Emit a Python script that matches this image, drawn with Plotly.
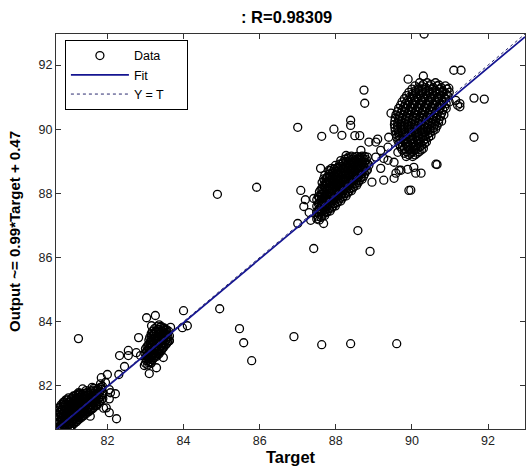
import plotly.graph_objects as go

# ---------------- data (target, output) ----------------
cluster_81 = [
    (80.70,80.66),(80.69,80.79),(80.71,80.94),(80.70,81.09),(80.72,81.24),
    (80.76,80.64),(80.77,80.75),(80.75,80.89),(80.78,81.03),(80.76,81.17),(80.77,81.34),
    (80.82,80.70),(80.83,80.84),(80.81,80.99),(80.84,81.12),(80.82,81.27),(80.83,81.43),
    (80.88,80.66),(80.89,80.78),(80.87,80.92),(80.90,81.05),(80.88,81.21),(80.89,81.33),(80.87,81.50),
    (80.95,80.72),(80.94,80.86),(80.96,81.00),(80.95,81.14),(80.93,81.27),(80.96,81.41),(80.95,81.56),
    (81.01,80.68),(81.02,80.81),(81.00,80.94),(81.03,81.08),(81.01,81.22),(81.02,81.36),(81.00,81.49),
    (81.07,80.75),(81.08,80.90),(81.06,81.03),(81.09,81.17),(81.07,81.31),(81.08,81.45),(81.06,81.61),
    (81.13,80.82),(81.14,80.96),(81.12,81.10),(81.15,81.24),(81.13,81.38),(81.14,81.52),(81.12,81.66),
    (81.19,80.88),(81.20,81.02),(81.18,81.15),(81.21,81.29),(81.19,81.42),(81.20,81.57),(81.18,81.71),
    (81.25,80.95),(81.26,81.08),(81.24,81.22),(81.27,81.35),(81.25,81.49),(81.26,81.62),(81.24,81.78),
    (81.31,81.00),(81.32,81.14),(81.30,81.28),(81.33,81.42),(81.31,81.55),(81.32,81.70),
    (81.37,81.06),(81.38,81.20),(81.36,81.34),(81.39,81.47),(81.37,81.61),(81.38,81.76),
    (81.43,81.12),(81.44,81.26),(81.42,81.40),(81.45,81.53),(81.43,81.68),(81.44,81.85),
    (81.50,81.18),(81.51,81.33),(81.49,81.47),(81.52,81.60),(81.50,81.74),
    (81.57,81.25),(81.58,81.40),(81.56,81.55),(81.59,81.68),(81.57,81.83),
    (81.64,81.32),(81.65,81.48),(81.63,81.62),(81.66,81.76),(81.64,81.92),
    (81.72,81.40),(81.73,81.56),(81.71,81.70),(81.74,81.86),
    (81.80,81.50),(81.81,81.65),(81.79,81.80),(81.82,81.95),
    (81.88,81.60),(81.89,81.78),(81.87,81.98),
    (80.73,80.72),(80.79,80.97),(80.85,81.37),(80.91,80.70),(80.98,81.30),(81.04,80.99),
    (81.10,81.40),(81.16,81.06),(81.22,81.50),(81.28,81.13),(81.34,81.60),(81.40,81.30),
    (81.47,81.45),(81.54,81.70),(81.61,81.40),(81.68,81.58),(81.76,81.75),(81.85,81.88),
]
cluster_81_more = [
    (80.73,80.86),(80.73,81.01),(80.74,81.17),(80.72,81.31),
    (80.79,80.69),(80.80,80.82),(80.79,81.10),(80.80,81.25),(80.78,81.40),
    (80.85,80.77),(80.86,80.92),(80.85,81.05),(80.86,81.20),(80.84,81.48),
    (80.91,80.85),(80.92,80.99),(80.91,81.13),(80.92,81.27),(80.90,81.42),(80.91,81.56),
    (80.98,80.79),(80.98,80.93),(80.99,81.07),(80.97,81.21),(80.98,81.48),(80.98,81.62),
    (81.04,80.74),(81.05,80.87),(81.04,81.15),(81.05,81.29),(81.04,81.43),(81.05,81.56),
    (81.10,80.82),(81.11,80.97),(81.10,81.10),(81.11,81.24),(81.10,81.53),(81.11,81.68),
    (81.16,80.89),(81.17,81.03),(81.16,81.17),(81.17,81.31),(81.16,81.45),(81.17,81.60),
    (81.22,80.95),(81.23,81.09),(81.22,81.22),(81.23,81.36),(81.22,81.64),(81.23,81.74),
    (81.28,81.00),(81.29,81.20),(81.28,81.35),(81.29,81.48),(81.28,81.63),(81.29,81.77),
    (81.34,81.07),(81.35,81.21),(81.34,81.35),(81.35,81.49),(81.34,81.73),
    (81.40,81.15),(81.41,81.44),(81.40,81.57),(81.41,81.70),
    (81.47,81.19),(81.48,81.30),(81.47,81.58),(81.48,81.80),
    (81.54,81.22),(81.55,81.36),(81.54,81.50),(81.55,81.63),(81.54,81.78),
    (81.61,81.28),(81.62,81.55),(81.61,81.70),(81.62,81.86),
    (81.68,81.37),(81.69,81.48),(81.68,81.72),(81.69,81.84),
    (81.76,81.45),(81.77,81.60),(81.76,81.90),
    (81.84,81.55),(81.85,81.72),(81.84,81.94),
]
outliers_81 = [
    (81.24,83.47),(82.24,80.97),(82.05,81.16),(81.97,81.31),(82.05,81.59),(82.21,81.75),
    (82.05,81.88),(81.76,81.91),(81.84,82.25),(81.82,82.06),(81.71,81.38),(82.08,81.78),
    (81.95,82.10),(81.60,81.95),(81.35,81.90),(81.55,81.05),(81.90,81.30),(82.00,82.35),
]
cluster_83 = [
    (83.00,82.70),(83.01,82.85),(82.99,83.00),(83.00,83.15),
    (83.06,82.65),(83.07,82.80),(83.05,82.95),(83.06,83.10),(83.07,83.25),
    (83.12,82.75),(83.13,82.90),(83.11,83.05),(83.12,83.20),(83.13,83.35),(83.11,83.50),
    (83.18,82.80),(83.19,82.95),(83.17,83.10),(83.18,83.25),(83.19,83.40),(83.17,83.55),(83.18,83.70),
    (83.24,82.88),(83.25,83.02),(83.23,83.18),(83.24,83.32),(83.25,83.48),(83.23,83.62),(83.24,83.78),
    (83.30,82.92),(83.31,83.08),(83.29,83.22),(83.30,83.38),(83.31,83.52),(83.29,83.68),(83.30,83.84),
    (83.36,83.00),(83.37,83.15),(83.35,83.30),(83.36,83.45),(83.37,83.60),(83.35,83.75),(83.36,83.90),
    (83.42,83.10),(83.43,83.25),(83.41,83.40),(83.42,83.55),(83.43,83.70),(83.41,83.85),
    (83.48,83.20),(83.49,83.35),(83.47,83.50),(83.48,83.65),(83.49,83.80),
    (83.55,83.30),(83.56,83.45),(83.54,83.60),(83.55,83.75),
    (83.62,83.40),(83.63,83.55),(83.61,83.70),
    (83.09,83.42),(83.15,83.62),(83.21,83.00),(83.27,83.55),(83.33,83.15),(83.39,83.68),
    (83.45,83.30),(83.52,83.58),(83.03,82.93),(83.15,82.70),
]
cluster_83_more = [
    (83.03,82.78),(83.03,83.07),(83.04,83.22),
    (83.09,82.72),(83.10,82.87),(83.09,83.02),(83.10,83.17),(83.09,83.30),
    (83.15,82.82),(83.16,82.97),(83.15,83.12),(83.16,83.28),(83.15,83.44),
    (83.21,82.87),(83.22,83.17),(83.21,83.33),(83.22,83.48),(83.21,83.63),
    (83.27,82.95),(83.28,83.10),(83.27,83.25),(83.28,83.40),(83.27,83.70),
    (83.33,83.00),(83.34,83.30),(83.33,83.45),(83.34,83.60),(83.33,83.76),
    (83.39,83.07),(83.40,83.22),(83.39,83.37),(83.40,83.52),(83.39,83.82),
    (83.45,83.16),(83.46,83.46),(83.45,83.62),(83.46,83.77),
    (83.52,83.27),(83.53,83.42),(83.52,83.72),
    (83.58,83.36),(83.59,83.52),(83.58,83.66),
]
outliers_83 = [
    (82.82,83.50),(83.03,84.12),(83.26,84.19),(83.16,83.87),(83.63,83.40),(83.66,83.82),
    (83.10,82.38),(82.97,82.63),(82.32,82.94),(82.55,83.10),(82.76,83.03),(82.87,82.94),
    (84.00,84.34),(84.10,83.87),(83.97,83.81),(83.47,82.88),(83.29,82.56),(82.55,82.94),
    (82.45,82.60),(82.30,82.35),
    (84.95,84.40),(85.47,83.78),(85.58,83.34),(85.79,82.78),(86.90,83.53),(87.63,83.28),
    (88.39,83.31),(89.60,83.31),
]
cluster_88 = [
    (87.50,87.20),(87.50,87.40),(87.50,87.60),(87.50,87.80),
    (87.57,87.17),(87.57,87.35),(87.57,87.52),(87.57,87.69),(87.57,87.87),(87.57,88.05),
    (87.64,87.29),(87.64,87.46),(87.64,87.64),(87.64,87.82),(87.64,87.99),(87.64,88.16),(87.64,88.34),
    (87.71,87.31),(87.71,87.49),(87.71,87.67),(87.71,87.85),(87.71,88.03),(87.71,88.21),(87.71,88.39),(87.71,88.56),
    (87.78,87.43),(87.78,87.61),(87.78,87.79),(87.78,87.97),(87.78,88.15),(87.78,88.33),(87.78,88.51),
    (87.85,87.45),(87.85,87.63),(87.85,87.81),(87.85,87.99),(87.85,88.17),(87.85,88.35),(87.85,88.53),(87.85,88.71),
    (87.92,87.59),(87.92,87.77),(87.92,87.95),(87.92,88.13),(87.92,88.31),(87.92,88.49),(87.92,88.67),
    (87.99,87.61),(87.99,87.79),(87.99,87.97),(87.99,88.15),(87.99,88.33),(87.99,88.51),(87.99,88.69),(87.99,88.87),
    (88.06,87.74),(88.06,87.92),(88.06,88.10),(88.06,88.28),(88.06,88.46),(88.06,88.64),(88.06,88.82),
    (88.13,87.76),(88.13,87.94),(88.13,88.12),(88.13,88.30),(88.13,88.48),(88.13,88.66),(88.13,88.84),(88.13,89.02),
    (88.20,87.90),(88.20,88.08),(88.20,88.26),(88.20,88.44),(88.20,88.62),(88.20,88.80),(88.20,88.98),
    (88.27,87.92),(88.27,88.10),(88.27,88.28),(88.27,88.46),(88.27,88.64),(88.27,88.82),(88.27,89.00),(88.27,89.18),
    (88.34,88.06),(88.34,88.24),(88.34,88.42),(88.34,88.60),(88.34,88.78),(88.34,88.96),(88.34,89.14),
    (88.41,88.08),(88.41,88.26),(88.41,88.44),(88.41,88.62),(88.41,88.80),(88.41,88.98),(88.41,89.16),
    (88.48,88.22),(88.48,88.40),(88.48,88.58),(88.48,88.76),(88.48,88.94),(88.48,89.12),
    (88.55,88.25),(88.55,88.43),(88.55,88.61),(88.55,88.79),(88.55,88.97),(88.55,89.15),
    (88.62,88.40),(88.62,88.58),(88.62,88.76),(88.62,88.94),(88.62,89.12),
    (88.69,88.44),(88.69,88.62),(88.69,88.80),(88.69,88.98),(88.69,89.16),
    (88.76,88.61),(88.76,88.79),(88.76,88.97),(88.76,89.15),
    (88.83,88.73),(88.83,88.93),(88.83,89.13),
]
cluster_88_more = [
    (87.54,87.28),(87.54,87.48),(87.54,87.68),(87.54,87.90),
    (87.61,87.25),(87.61,87.43),(87.61,87.60),(87.61,87.78),(87.61,87.96),(87.61,88.12),
    (87.68,87.38),(87.68,87.55),(87.68,87.73),(87.68,87.91),(87.68,88.08),(87.68,88.25),(87.68,88.45),
    (87.75,87.40),(87.75,87.58),(87.75,87.76),(87.75,87.94),(87.75,88.12),(87.75,88.30),(87.75,88.47),
    (87.82,87.52),(87.82,87.70),(87.82,87.88),(87.82,88.06),(87.82,88.24),(87.82,88.42),(87.82,88.60),
    (87.89,87.54),(87.89,87.72),(87.89,87.90),(87.89,88.08),(87.89,88.26),(87.89,88.44),(87.89,88.62),(87.89,88.78),
    (87.96,87.68),(87.96,87.86),(87.96,88.04),(87.96,88.22),(87.96,88.40),(87.96,88.58),(87.96,88.76),
    (88.03,87.70),(88.03,87.88),(88.03,88.06),(88.03,88.24),(88.03,88.42),(88.03,88.60),(88.03,88.78),
    (88.10,87.83),(88.10,88.01),(88.10,88.19),(88.10,88.37),(88.10,88.55),(88.10,88.73),(88.10,88.91),
    (88.17,87.85),(88.17,88.03),(88.17,88.21),(88.17,88.39),(88.17,88.57),(88.17,88.75),(88.17,88.93),
    (88.24,87.99),(88.24,88.17),(88.24,88.35),(88.24,88.53),(88.24,88.71),(88.24,88.89),(88.24,89.07),
    (88.31,88.01),(88.31,88.19),(88.31,88.37),(88.31,88.55),(88.31,88.73),(88.31,88.91),(88.31,89.09),
    (88.38,88.15),(88.38,88.33),(88.38,88.51),(88.38,88.69),(88.38,88.87),(88.38,89.05),
    (88.45,88.17),(88.45,88.35),(88.45,88.53),(88.45,88.71),(88.45,88.89),(88.45,89.07),
    (88.52,88.31),(88.52,88.49),(88.52,88.67),(88.52,88.85),(88.52,89.03),
    (88.59,88.34),(88.59,88.52),(88.59,88.70),(88.59,88.88),(88.59,89.06),
    (88.66,88.49),(88.66,88.67),(88.66,88.85),(88.66,89.03),
    (88.73,88.53),(88.73,88.71),(88.73,88.89),(88.73,89.07),
    (88.80,88.70),(88.80,88.88),(88.80,89.05),
]
outliers_88 = [
    (87.00,90.06),(87.63,89.78),(87.95,90.00),(88.16,89.81),(88.39,90.28),(88.39,90.12),
    (88.50,89.80),(88.63,89.80),(88.76,90.81),(88.74,91.22),(87.08,88.09),(87.42,87.84),
    (87.16,87.59),(87.00,87.06),(87.34,87.16),(87.68,87.06),(87.60,88.78),(87.82,88.72),
    (87.74,88.34),(88.58,86.84),(88.90,86.19),(87.42,86.28),(84.89,87.97),(85.92,88.19),
    (87.30,87.40),(87.20,87.80),(88.95,88.35),(88.66,89.34),(88.66,89.13),(88.87,89.60),
    (88.87,88.88),(89.05,89.13),(89.18,88.78),(89.26,88.41),
]
cluster_90 = [
    (90.20,91.45),(90.40,91.45),(90.62,91.45),
    (90.08,91.35),(90.26,91.35),(90.46,91.35),(90.66,91.35),(90.88,91.35),
    (90.00,91.25),(90.18,91.25),(90.36,91.25),(90.54,91.25),(90.72,91.25),(90.92,91.25),
    (89.92,91.15),(90.10,91.15),(90.28,91.15),(90.46,91.15),(90.64,91.15),(90.82,91.15),(90.98,91.15),
    (89.86,91.05),(90.04,91.05),(90.22,91.05),(90.40,91.05),(90.58,91.05),(90.76,91.05),(90.94,91.05),
    (89.80,90.95),(89.98,90.95),(90.16,90.95),(90.34,90.95),(90.52,90.95),(90.70,90.95),(90.88,90.95),
    (89.74,90.85),(89.92,90.85),(90.10,90.85),(90.28,90.85),(90.46,90.85),(90.64,90.85),(90.82,90.85),(90.98,90.85),
    (89.70,90.75),(89.88,90.75),(90.06,90.75),(90.24,90.75),(90.42,90.75),(90.60,90.75),(90.78,90.75),
    (89.65,90.65),(89.83,90.65),(90.01,90.65),(90.19,90.65),(90.37,90.65),(90.55,90.65),(90.73,90.65),(90.90,90.65),
    (89.62,90.55),(89.80,90.55),(89.98,90.55),(90.16,90.55),(90.34,90.55),(90.52,90.55),(90.70,90.55),
    (89.58,90.45),(89.76,90.45),(89.94,90.45),(90.12,90.45),(90.30,90.45),(90.48,90.45),(90.66,90.45),(90.84,90.45),
    (89.56,90.35),(89.74,90.35),(89.92,90.35),(90.10,90.35),(90.28,90.35),(90.46,90.35),(90.64,90.35),
    (89.55,90.25),(89.72,90.25),(89.90,90.25),(90.08,90.25),(90.26,90.25),(90.44,90.25),(90.62,90.25),(90.78,90.25),
    (89.54,90.15),(89.71,90.15),(89.88,90.15),(90.06,90.15),(90.24,90.15),(90.42,90.15),(90.60,90.15),
    (89.55,90.05),(89.72,90.05),(89.89,90.05),(90.06,90.05),(90.23,90.05),(90.40,90.05),(90.57,90.05),
    (89.56,89.95),(89.73,89.95),(89.90,89.95),(90.07,89.95),(90.24,89.95),(90.41,89.95),(90.56,89.95),
    (89.58,89.85),(89.75,89.85),(89.92,89.85),(90.09,89.85),(90.26,89.85),(90.42,89.85),
    (89.60,89.75),(89.77,89.75),(89.94,89.75),(90.11,89.75),(90.28,89.75),(90.44,89.75),
    (89.63,89.65),(89.80,89.65),(89.97,89.65),(90.14,89.65),(90.31,89.65),
    (89.66,89.55),(89.83,89.55),(90.00,89.55),(90.17,89.55),(90.33,89.55),
    (89.70,89.45),(89.87,89.45),(90.04,89.45),(90.21,89.45),
    (89.75,89.35),(89.92,89.35),(90.09,89.35),(90.25,89.35),
    (89.80,89.25),(89.97,89.25),(90.14,89.25),
    (89.85,89.15),(90.02,89.15),
]
cluster_90_more = [
    (90.30,91.40),(90.50,91.40),
    (90.17,91.30),(90.36,91.30),(90.56,91.30),(90.77,91.30),
    (90.09,91.20),(90.27,91.20),(90.45,91.20),(90.63,91.20),(90.81,91.20),
    (90.01,91.10),(90.19,91.10),(90.37,91.10),(90.55,91.10),(90.73,91.10),(90.90,91.10),
    (89.95,91.00),(90.13,91.00),(90.31,91.00),(90.49,91.00),(90.67,91.00),(90.85,91.00),
    (89.89,90.90),(90.07,90.90),(90.25,90.90),(90.43,90.90),(90.61,90.90),(90.79,90.90),
    (89.83,90.80),(90.01,90.80),(90.19,90.80),(90.37,90.80),(90.55,90.80),(90.73,90.80),(90.90,90.80),
    (89.79,90.70),(89.97,90.70),(90.15,90.70),(90.33,90.70),(90.51,90.70),(90.69,90.70),(90.86,90.70),
    (89.74,90.60),(89.92,90.60),(90.10,90.60),(90.28,90.60),(90.46,90.60),(90.64,90.60),(90.81,90.60),
    (89.71,90.50),(89.89,90.50),(90.07,90.50),(90.25,90.50),(90.43,90.50),(90.61,90.50),(90.78,90.50),
    (89.67,90.40),(89.85,90.40),(90.03,90.40),(90.21,90.40),(90.39,90.40),(90.57,90.40),(90.75,90.40),
    (89.65,90.30),(89.83,90.30),(90.01,90.30),(90.19,90.30),(90.37,90.30),(90.55,90.30),(90.71,90.30),
    (89.63,90.20),(89.81,90.20),(89.99,90.20),(90.17,90.20),(90.35,90.20),(90.53,90.20),(90.70,90.20),
    (89.62,90.10),(89.80,90.10),(89.97,90.10),(90.15,90.10),(90.33,90.10),(90.51,90.10),(90.66,90.10),
    (89.63,90.00),(89.80,90.00),(89.97,90.00),(90.14,90.00),(90.31,90.00),(90.48,90.00),(90.62,90.00),
    (89.64,89.90),(89.81,89.90),(89.98,89.90),(90.15,89.90),(90.32,89.90),(90.48,89.90),
    (89.66,89.80),(89.83,89.80),(90.00,89.80),(90.17,89.80),(90.34,89.80),(90.50,89.80),
    (89.68,89.70),(89.85,89.70),(90.02,89.70),(90.19,89.70),(90.36,89.70),
    (89.71,89.60),(89.88,89.60),(90.05,89.60),(90.22,89.60),(90.38,89.60),
    (89.75,89.50),(89.92,89.50),(90.09,89.50),(90.26,89.50),
    (89.80,89.40),(89.97,89.40),(90.14,89.40),(90.30,89.40),
    (89.86,89.30),(90.03,89.30),(90.19,89.30),
    (89.92,89.20),(90.08,89.20),
]
outliers_90 = [
    (90.32,92.97),(89.90,91.56),(90.30,91.66),(91.10,91.84),(91.29,91.84),(91.63,90.97),
    (91.90,90.94),(91.26,90.80),(91.26,90.70),(91.15,90.90),(91.20,90.75),(90.97,91.28),
    (90.71,91.38),(91.63,89.75),(90.66,88.90),(89.97,88.10),(90.24,88.63),(90.05,88.81),
    (89.89,88.75),(89.66,88.72),(89.53,88.97),(89.37,89.03),(89.39,89.75),(89.45,90.50),
    (89.71,88.72),(90.10,88.63),(90.63,88.91),(89.63,89.28),(89.26,89.09),(89.18,89.34),
    (89.37,89.44),(89.10,89.69),(89.05,89.60),(89.58,88.63),(89.53,88.47),(89.92,88.09),
]

fit_slope = 0.994      # label shows the rounded values 0.99 and 0.47
fit_intercept = 0.47
axis_limits = [80.65, 92.97]
tick_values = [82, 84, 86, 88, 90, 92]
title_text = ": R=0.98309"
x_label = "Target"
y_label = "Output ~= 0.99*Target + 0.47"
legend_names = ["Data", "Fit", "Y = T"]

# ---------------------------------------------------------------------------
groups = [cluster_81, cluster_81_more, outliers_81,
          cluster_83, cluster_83_more, outliers_83,
          cluster_88, cluster_88_more, outliers_88,
          cluster_90, cluster_90_more, outliers_90]
target = [p[0] for g in groups for p in g]
output = [p[1] for g in groups for p in g]

fit_x = axis_limits
fit_y = [fit_slope * v + fit_intercept for v in fit_x]

FONT = "Liberation Sans, Arial, sans-serif"
PAD = "\u00a0" * 5   # widen the legend box a little

fig = go.Figure()
fig.add_trace(go.Scatter(
    x=target, y=output, mode="markers", name=legend_names[0],
    marker=dict(symbol="circle-open", size=8, color="black",
                line=dict(width=1.3, color="black")),
))
fig.add_trace(go.Scatter(
    x=fit_x, y=fit_y, mode="lines", name=legend_names[1],
    line=dict(color="rgb(20,20,145)", width=1.7),
))
fig.add_trace(go.Scatter(
    x=axis_limits, y=axis_limits, mode="lines", name=legend_names[2] + PAD,
    line=dict(color="rgb(40,40,110)", width=1, dash="dot"),
))

axis_common = dict(
    range=axis_limits, tickvals=tick_values, automargin=False,
    ticks="inside", ticklen=5, tickcolor="#333", tickwidth=1,
    showline=True, linecolor="#333", linewidth=1, mirror="ticks",
    showgrid=False, zeroline=False,
    tickfont=dict(family=FONT, size=12.5, color="#222"),
)

fig.update_layout(
    width=526, height=471,
    margin=dict(l=56, r=1, t=34, b=42),
    paper_bgcolor="white", plot_bgcolor="white",
    title=dict(text="<b>" + title_text + "</b>", x=0.545, xanchor="center",
               y=1 - 17 / 471, yanchor="middle",
               font=dict(family=FONT, size=16.5, color="black")),
    xaxis=dict(**axis_common,
               title=dict(text="<b>" + x_label + "</b>", standoff=4,
                          font=dict(family=FONT, size=16.5, color="black"))),
    yaxis=dict(**axis_common,
               title=dict(text="<b>" + y_label + "</b>", standoff=14,
                          font=dict(family=FONT, size=15, color="black"))),
    legend=dict(x=0.019, y=0.985, xanchor="left", yanchor="top",
                bgcolor="white", bordercolor="black", borderwidth=1,
                font=dict(family=FONT, size=12.5, color="black"),
                itemwidth=58, tracegroupgap=0),
    showlegend=True,
)

fig.write_html("out.html", config={"displayModeBar": False},
               post_script="document.body.style.margin='0';document.body.style.padding='0';")
